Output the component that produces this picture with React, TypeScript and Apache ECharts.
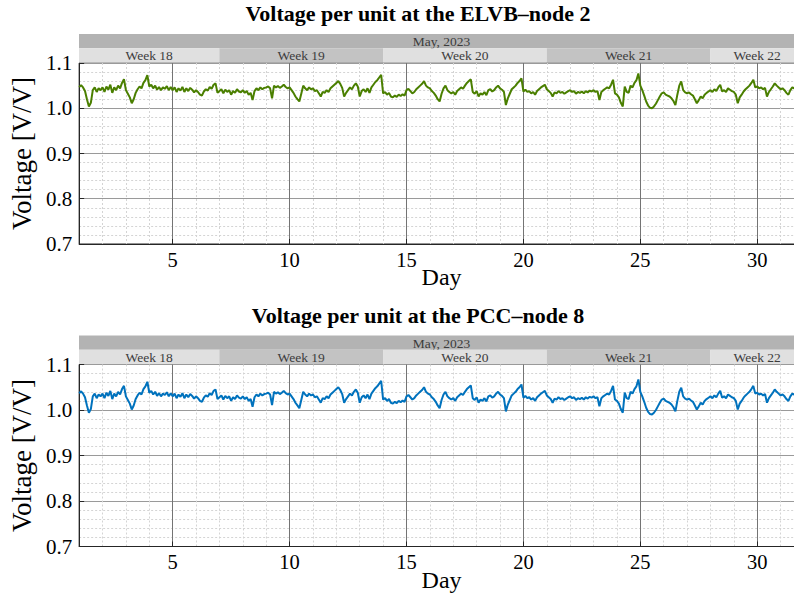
import { useEffect, useRef } from 'react';
import * as echarts from 'echarts';

// ---- data -----------------------------------------------------------------
const START_DAY = 1;
const STEP_DAYS = 1 / 12; // 2-hour samples
const X_MIN = 1;
const X_MAX = 32;
const Y_MIN = 0.7;
const Y_MAX = 1.1;
const Y_STEP = 0.1;

const MONTH_LABEL = 'May, 2023';
const WEEK_LABELS = ['Week 18', 'Week 19', 'Week 20', 'Week 21', 'Week 22'];
const WEEK_STARTS = [1, 7, 14, 21, 28];
const WEEK_ENDS = [7, 14, 21, 28, 32];

const TITLES = ['Voltage per unit at the ELVB–node 2', 'Voltage per unit at the PCC–node 8'];

// one row per day (12 two-hour samples)
const ELVB_NODE2 = [
  1.047, 1.051, 1.046, 1.038, 1.020, 1.004, 1.012, 1.040, 1.046, 1.036, 1.044, 1.040,
  1.046, 1.036, 1.048, 1.041, 1.052, 1.034, 1.046, 1.040, 1.050, 1.044, 1.056, 1.064,
  1.040, 1.032, 1.024, 1.011, 1.020, 1.034, 1.042, 1.048, 1.044, 1.056, 1.062, 1.073,
  1.048, 1.052, 1.044, 1.050, 1.041, 1.047, 1.040, 1.046, 1.043, 1.049, 1.040, 1.047,
  1.040, 1.046, 1.036, 1.044, 1.039, 1.047, 1.036, 1.044, 1.038, 1.045, 1.041, 1.035,
  1.040, 1.036, 1.030, 1.028, 1.037, 1.042, 1.039, 1.047, 1.043, 1.052, 1.055, 1.034,
  1.038, 1.042, 1.033, 1.041, 1.036, 1.040, 1.030, 1.038, 1.034, 1.042, 1.037, 1.035,
  1.040, 1.034, 1.038, 1.030, 1.034, 1.018, 1.038, 1.044, 1.040, 1.046, 1.042, 1.045,
  1.046, 1.048, 1.044, 1.022, 1.050, 1.046, 1.049, 1.045, 1.048, 1.052, 1.047, 1.044,
  1.046, 1.040, 1.034, 1.026, 1.020, 1.015, 1.032, 1.050, 1.044, 1.040, 1.046, 1.042,
  1.044, 1.038, 1.040, 1.033, 1.026, 1.036, 1.034, 1.040, 1.036, 1.044, 1.048, 1.052,
  1.056, 1.060, 1.054, 1.045, 1.026, 1.034, 1.040, 1.046, 1.042, 1.050, 1.055, 1.048,
  1.026, 1.038, 1.042, 1.036, 1.044, 1.034, 1.046, 1.052, 1.058, 1.062, 1.068, 1.074,
  1.033, 1.036, 1.030, 1.034, 1.026, 1.024, 1.028, 1.025, 1.030, 1.027, 1.031, 1.028,
  1.040, 1.043, 1.038, 1.033, 1.036, 1.042, 1.046, 1.050, 1.054, 1.060, 1.050, 1.046,
  1.044, 1.038, 1.034, 1.028, 1.020, 1.015, 1.032, 1.044, 1.050, 1.040, 1.036, 1.033,
  1.036, 1.030, 1.038, 1.042, 1.046, 1.043, 1.050, 1.056, 1.060, 1.064, 1.036, 1.032,
  1.038, 1.026, 1.033, 1.030, 1.036, 1.029, 1.040, 1.042, 1.037, 1.040, 1.046, 1.050,
  1.044, 1.041, 1.036, 1.007, 1.022, 1.032, 1.042, 1.046, 1.050, 1.056, 1.060, 1.066,
  1.037, 1.041, 1.036, 1.038, 1.033, 1.036, 1.030, 1.038, 1.042, 1.046, 1.049, 1.052,
  1.042, 1.038, 1.034, 1.026, 1.035, 1.033, 1.038, 1.034, 1.036, 1.032, 1.035, 1.038,
  1.040, 1.036, 1.038, 1.032, 1.036, 1.034, 1.037, 1.033, 1.038, 1.035, 1.039, 1.037,
  1.040, 1.036, 1.038, 1.018, 1.036, 1.040, 1.043, 1.046, 1.044, 1.052, 1.063, 1.033,
  1.030, 1.024, 1.012, 1.004, 1.048, 1.036, 1.034, 1.050, 1.046, 1.056, 1.062, 1.077,
  1.050, 1.040, 1.028, 1.015, 1.006, 1.001, 1.000, 1.004, 1.010, 1.018, 1.026, 1.033,
  1.035, 1.030, 1.028, 1.026, 1.022, 1.016, 1.007, 1.030, 1.050, 1.059, 1.040, 1.035,
  1.033, 1.035, 1.031, 1.028, 1.020, 1.011, 1.018, 1.026, 1.022, 1.030, 1.034, 1.037,
  1.040, 1.036, 1.042, 1.038, 1.046, 1.052, 1.037, 1.040, 1.036, 1.044, 1.041, 1.038,
  1.036, 1.030, 1.011, 1.024, 1.030, 1.037, 1.042, 1.046, 1.050, 1.056, 1.063, 1.046,
  1.048, 1.044, 1.046, 1.042, 1.045, 1.026, 1.036, 1.042, 1.048, 1.055, 1.050, 1.046,
  1.042, 1.044, 1.040, 1.034, 1.030, 1.040, 1.046, 1.044, 1.040, 1.043, 1.041, 1.044,
];

const PCC_NODE8 = [
  1.037, 1.041, 1.036, 1.028, 1.010, 0.994, 1.002, 1.030, 1.036, 1.026, 1.034, 1.030,
  1.036, 1.026, 1.038, 1.031, 1.042, 1.024, 1.036, 1.030, 1.040, 1.034, 1.046, 1.053,
  1.030, 1.022, 1.014, 1.001, 1.010, 1.024, 1.032, 1.038, 1.034, 1.046, 1.052, 1.062,
  1.038, 1.042, 1.034, 1.040, 1.031, 1.037, 1.030, 1.036, 1.033, 1.039, 1.030, 1.037,
  1.030, 1.036, 1.026, 1.034, 1.029, 1.037, 1.026, 1.034, 1.028, 1.035, 1.031, 1.025,
  1.030, 1.026, 1.020, 1.018, 1.027, 1.032, 1.029, 1.037, 1.033, 1.042, 1.045, 1.024,
  1.028, 1.032, 1.023, 1.031, 1.026, 1.030, 1.020, 1.028, 1.024, 1.032, 1.027, 1.025,
  1.030, 1.024, 1.028, 1.020, 1.024, 1.007, 1.028, 1.034, 1.030, 1.036, 1.032, 1.035,
  1.036, 1.038, 1.034, 1.011, 1.040, 1.036, 1.039, 1.035, 1.038, 1.042, 1.037, 1.034,
  1.036, 1.030, 1.024, 1.016, 1.010, 1.004, 1.022, 1.040, 1.034, 1.030, 1.036, 1.032,
  1.034, 1.028, 1.030, 1.023, 1.016, 1.026, 1.024, 1.030, 1.026, 1.034, 1.038, 1.042,
  1.046, 1.050, 1.044, 1.035, 1.016, 1.024, 1.030, 1.036, 1.032, 1.040, 1.045, 1.038,
  1.016, 1.028, 1.032, 1.026, 1.034, 1.024, 1.036, 1.042, 1.048, 1.052, 1.058, 1.064,
  1.023, 1.026, 1.020, 1.024, 1.016, 1.014, 1.018, 1.015, 1.020, 1.017, 1.021, 1.018,
  1.030, 1.033, 1.028, 1.023, 1.026, 1.032, 1.036, 1.040, 1.044, 1.050, 1.040, 1.036,
  1.034, 1.028, 1.024, 1.018, 1.010, 1.004, 1.022, 1.034, 1.040, 1.030, 1.026, 1.023,
  1.026, 1.020, 1.028, 1.032, 1.036, 1.033, 1.040, 1.046, 1.050, 1.054, 1.026, 1.022,
  1.028, 1.016, 1.023, 1.020, 1.026, 1.019, 1.030, 1.032, 1.027, 1.030, 1.036, 1.040,
  1.034, 1.031, 1.026, 0.997, 1.012, 1.022, 1.032, 1.036, 1.040, 1.046, 1.050, 1.056,
  1.027, 1.031, 1.026, 1.028, 1.023, 1.026, 1.020, 1.028, 1.032, 1.036, 1.039, 1.042,
  1.032, 1.028, 1.024, 1.016, 1.025, 1.023, 1.028, 1.024, 1.026, 1.022, 1.025, 1.028,
  1.030, 1.026, 1.028, 1.022, 1.026, 1.024, 1.027, 1.023, 1.028, 1.025, 1.029, 1.027,
  1.030, 1.026, 1.028, 1.008, 1.026, 1.030, 1.033, 1.036, 1.034, 1.042, 1.053, 1.023,
  1.020, 1.014, 1.002, 0.994, 1.038, 1.026, 1.024, 1.040, 1.036, 1.046, 1.052, 1.067,
  1.040, 1.030, 1.018, 1.005, 0.996, 0.991, 0.990, 0.994, 1.000, 1.008, 1.016, 1.023,
  1.025, 1.020, 1.018, 1.016, 1.012, 1.006, 0.997, 1.020, 1.040, 1.049, 1.030, 1.025,
  1.023, 1.025, 1.021, 1.018, 1.010, 1.001, 1.008, 1.016, 1.012, 1.020, 1.024, 1.027,
  1.030, 1.026, 1.032, 1.028, 1.036, 1.042, 1.027, 1.030, 1.026, 1.034, 1.031, 1.028,
  1.026, 1.020, 1.001, 1.014, 1.020, 1.027, 1.032, 1.036, 1.040, 1.046, 1.053, 1.036,
  1.038, 1.034, 1.036, 1.032, 1.035, 1.016, 1.026, 1.032, 1.038, 1.045, 1.040, 1.036,
  1.032, 1.034, 1.030, 1.024, 1.020, 1.030, 1.036, 1.034, 1.030, 1.033, 1.031, 1.034,
];

// ---- styling ---------------------------------------------------------------
const SERIF = '"Liberation Serif", "Times New Roman", Times, serif';
const LINE_COLORS = ['#4a7f00', '#0072bd'];
const AXIS_COLOR = '#262626';
const CHART_W = 830; // plot box runs past the right edge of the 794px page, as in the reference
const CHART_H = 601;

const toPairs = (vals: number[]) => vals.map((v, i) => [START_DAY + i * STEP_DAYS, v]);

const BAND_LABELS = [MONTH_LABEL, ...WEEK_LABELS];
const BAND_DATA = [
  [X_MIN, X_MAX, 1],
  ...WEEK_STARTS.map((s, i) => [s, WEEK_ENDS[i], 0]),
];

function buildOption() {
  const layout = [
    { titleTop: 2, bandTop: 34, plotTop: 63, plotH: 181 },
    { titleTop: 304, bandTop: 335.5, plotTop: 364.5, plotH: 182 },
  ];
  const seriesData = [ELVB_NODE2, PCC_NODE8];

  const title: any[] = [];
  const grid: any[] = [];
  const xAxis: any[] = [];
  const yAxis: any[] = [];
  const series: any[] = [];

  layout.forEach((L, p) => {
    title.push({
      text: TITLES[p],
      left: 418,
      textAlign: 'center',
      top: L.titleTop,
      padding: 0,
      textStyle: { fontFamily: SERIF, fontWeight: 'bold', fontSize: 22, color: '#000' },
    });
    grid.push({
      left: 79, top: L.plotTop, width: 725, height: L.plotH,
      show: true, borderColor: AXIS_COLOR, borderWidth: 1, backgroundColor: 'transparent',
    });
    grid.push({ left: 79, top: L.bandTop, width: 725, height: L.plotTop - L.bandTop - 0.5, show: false });

    const gPlot = 2 * p;
    const gBand = 2 * p + 1;

    xAxis.push({
      type: 'value', gridIndex: gPlot, min: X_MIN, max: X_MAX,
      name: 'Day', nameLocation: 'middle', nameGap: 21, nameMoveOverlap: false,
      nameTextStyle: { fontFamily: SERIF, fontSize: 24, color: '#000' },
      axisLine: { show: true, lineStyle: { color: AXIS_COLOR, width: 1 } },
      axisTick: { show: true, inside: true, length: 5, lineStyle: { color: AXIS_COLOR } },
      minorTick: { show: false, splitNumber: 5 },
      axisLabel: {
        fontFamily: SERIF, fontSize: 20.5, color: '#000', margin: 5,
        showMinLabel: false, showMaxLabel: false,
      },
      splitLine: { show: true, lineStyle: { color: '#747474', width: 1 } },
      minorSplitLine: { show: true, lineStyle: { color: '#d4d4d4', width: 1, type: [2, 2] } },
    });
    xAxis.push({ type: 'value', gridIndex: gBand, min: X_MIN, max: X_MAX, show: false });

    yAxis.push({
      type: 'value', gridIndex: gPlot, min: Y_MIN, max: Y_MAX, interval: Y_STEP,
      name: 'Voltage [V/V]', nameLocation: 'middle', nameGap: 43, nameRotate: 90,
      nameTextStyle: { fontFamily: SERIF, fontSize: 27, color: '#000' },
      axisLine: { show: true, lineStyle: { color: AXIS_COLOR, width: 1 } },
      axisTick: { show: true, inside: true, length: 5, lineStyle: { color: AXIS_COLOR } },
      minorTick: { show: false, splitNumber: 5 },
      axisLabel: {
        fontFamily: SERIF, fontSize: 21, color: '#000', margin: 7,
        formatter: (v: number) => v.toFixed(1),
      },
      splitLine: { show: true, lineStyle: { color: '#9a9a9a', width: 1 } },
      minorSplitLine: { show: true, lineStyle: { color: '#d4d4d4', width: 1, type: [2, 2] } },
    });
    yAxis.push({ type: 'value', gridIndex: gBand, min: 0, max: 2, show: false });

    series.push({
      type: 'custom',
      xAxisIndex: gBand,
      yAxisIndex: gBand,
      data: BAND_DATA,
      silent: true,
      renderItem: (params: any, api: any) => {
        const s = api.value(0);
        const e = api.value(1);
        const row = api.value(2);
        const p0 = api.coord([s, row + 1]);
        const p1 = api.coord([e, row]);
        const idx = params.dataIndex;
        const fill = idx === 0 ? '#b3b3b3' : idx % 2 === 1 ? '#e0e0e0' : '#c3c3c3';
        return {
          type: 'group',
          children: [
            {
              type: 'rect',
              shape: { x: p0[0], y: p0[1], width: p1[0] - p0[0], height: p1[1] - p0[1] },
              style: { fill },
            },
            {
              type: 'text',
              style: {
                text: BAND_LABELS[idx],
                x: (p0[0] + p1[0]) / 2,
                y: (p0[1] + p1[1]) / 2 + 0.5,
                align: 'center',
                verticalAlign: 'middle',
                fill: '#3c3c3c',
                fontSize: 13.5,
                fontFamily: SERIF,
              },
            },
          ],
        };
      },
    });

    series.push({
      type: 'line',
      xAxisIndex: gPlot,
      yAxisIndex: gPlot,
      data: toPairs(seriesData[p]),
      showSymbol: false,
      symbol: 'none',
      lineStyle: { color: LINE_COLORS[p], width: 2 },
      itemStyle: { color: LINE_COLORS[p] },
      clip: true,
    });
  });

  return {
    animation: false,
    backgroundColor: '#ffffff',
    title,
    grid,
    xAxis,
    yAxis,
    series,
  };
}

export default function App() {
  const ref = useRef<HTMLDivElement>(null);
  useEffect(() => {
    if (!ref.current) return;
    const chart = echarts.init(ref.current, null, { renderer: 'svg', width: CHART_W, height: CHART_H });
    chart.setOption(buildOption() as any);
    return () => chart.dispose();
  }, []);
  return (
    <div
      style={{
        position: 'absolute', left: 0, top: 0, width: 794, height: 601,
        overflow: 'hidden', background: '#fff',
      }}
    >
      <div ref={ref} style={{ width: CHART_W, height: CHART_H }} />
    </div>
  );
}
